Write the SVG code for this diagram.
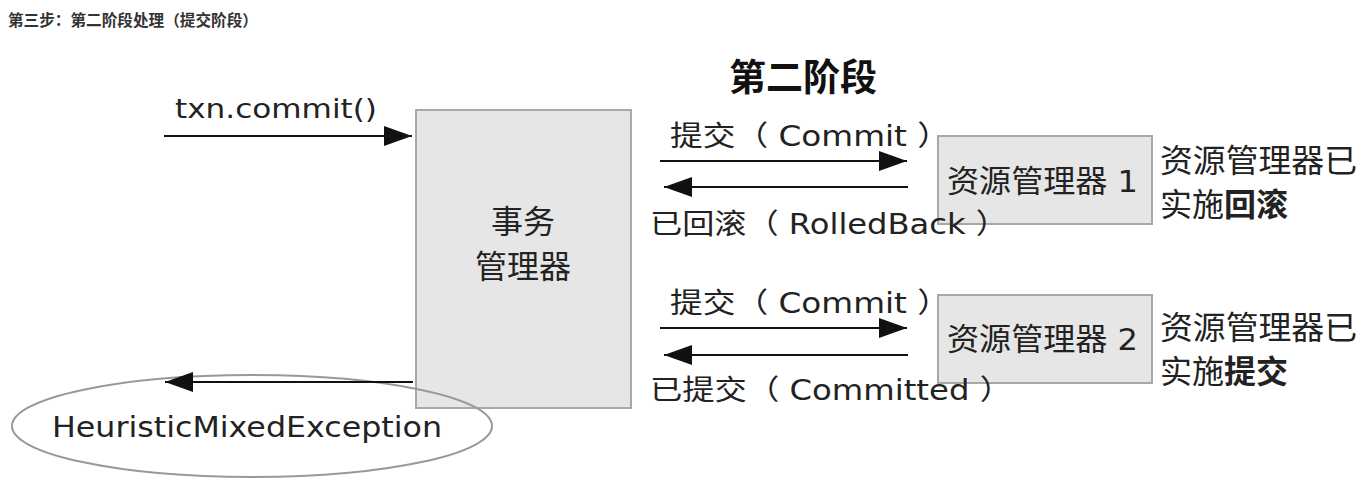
<svg xmlns="http://www.w3.org/2000/svg" width="1369" height="490" viewBox="0 0 1369 490">
<defs>
<style>
.t{font-family:"DejaVu Sans","Noto Sans CJK SC",sans-serif;fill:#222;}
.box{fill:#e6e6e6;stroke:#a8a8a8;stroke-width:2;}
.ln{stroke:#111;stroke-width:2;fill:none;}
</style>
<marker id="ahb" viewBox="0 0 28 20" refX="28" refY="10" markerWidth="28" markerHeight="20" markerUnits="userSpaceOnUse" orient="auto">
<path d="M0,0 L28,10 L0,20 Z" fill="#111"/>
</marker>
</defs>
<rect width="1369" height="490" fill="#fff"/>
<text x="8" y="26" style="font-family:'Noto Sans CJK SC',sans-serif;font-size:15.5px;font-weight:bold;fill:#333" textLength="250" lengthAdjust="spacingAndGlyphs">第三步：第二阶段处理（提交阶段）</text>
<text x="803" y="91" class="t" text-anchor="middle" style="font-size:37px;font-weight:bold;fill:#111">第二阶段</text>

<g id="txn-label"><text x="175" y="118" class="t" style="font-size:26px" textLength="202" lengthAdjust="spacingAndGlyphs">txn.commit()</text></g>

<g id="tm">
<rect class="box" x="416" y="110" width="215" height="298"/>
<text x="523" y="233" class="t" text-anchor="middle" style="font-size:32px">事务</text>
<text x="523" y="278" class="t" text-anchor="middle" style="font-size:32px">管理器</text>
</g>

<g id="rm1">
<rect class="box" x="938" y="136" width="214" height="88"/>
<text x="947" y="192" class="t" style="font-size:31px" textLength="191" lengthAdjust="spacingAndGlyphs">资源管理器 1</text>
</g>
<g id="rm1-note">
<text x="1160" y="172" class="t" style="font-size:32px" textLength="197" lengthAdjust="spacingAndGlyphs">资源管理器已</text>
<text x="1160" y="216" class="t" style="font-size:32px">实施<tspan font-weight="bold">回滚</tspan></text>
</g>

<g id="rm2">
<rect class="box" x="938" y="295" width="214" height="88"/>
<text x="947" y="350" class="t" style="font-size:31px" textLength="191" lengthAdjust="spacingAndGlyphs">资源管理器 2</text>
</g>
<g id="rm2-note">
<text x="1160" y="339" class="t" style="font-size:32px" textLength="197" lengthAdjust="spacingAndGlyphs">资源管理器已</text>
<text x="1160" y="383" class="t" style="font-size:32px">实施<tspan font-weight="bold">提交</tspan></text>
</g>

<g id="exc">
<ellipse cx="252" cy="426" rx="240" ry="51" fill="none" stroke="#999" stroke-width="2"/>
<text x="52" y="437" class="t" style="font-size:28px" textLength="390" lengthAdjust="spacingAndGlyphs">HeuristicMixedException</text>
</g>

<g id="connectors">
<line class="ln" x1="164" y1="136" x2="412" y2="136" marker-end="url(#ahb)"/>
<line class="ln" x1="660" y1="161" x2="907" y2="161" marker-end="url(#ahb)"/>
<line class="ln" x1="908" y1="187" x2="664" y2="187" marker-end="url(#ahb)"/>
<line class="ln" x1="660" y1="328" x2="907" y2="328" marker-end="url(#ahb)"/>
<line class="ln" x1="908" y1="355" x2="664" y2="355" marker-end="url(#ahb)"/>
<line class="ln" x1="413" y1="382" x2="165" y2="382" marker-end="url(#ahb)"/>
</g>
<g id="labels">
<text x="670" y="146" class="t" style="font-size:28px" textLength="280" lengthAdjust="spacingAndGlyphs">提交（ Commit ）</text>
<text x="650" y="234" class="t" style="font-size:28px" textLength="358" lengthAdjust="spacingAndGlyphs">已回滚（ RolledBack ）</text>
<text x="670" y="313" class="t" style="font-size:28px" textLength="280" lengthAdjust="spacingAndGlyphs">提交（ Commit ）</text>
<text x="650" y="400" class="t" style="font-size:28px" textLength="362" lengthAdjust="spacingAndGlyphs">已提交（ Committed ）</text>
</g>
</svg>
